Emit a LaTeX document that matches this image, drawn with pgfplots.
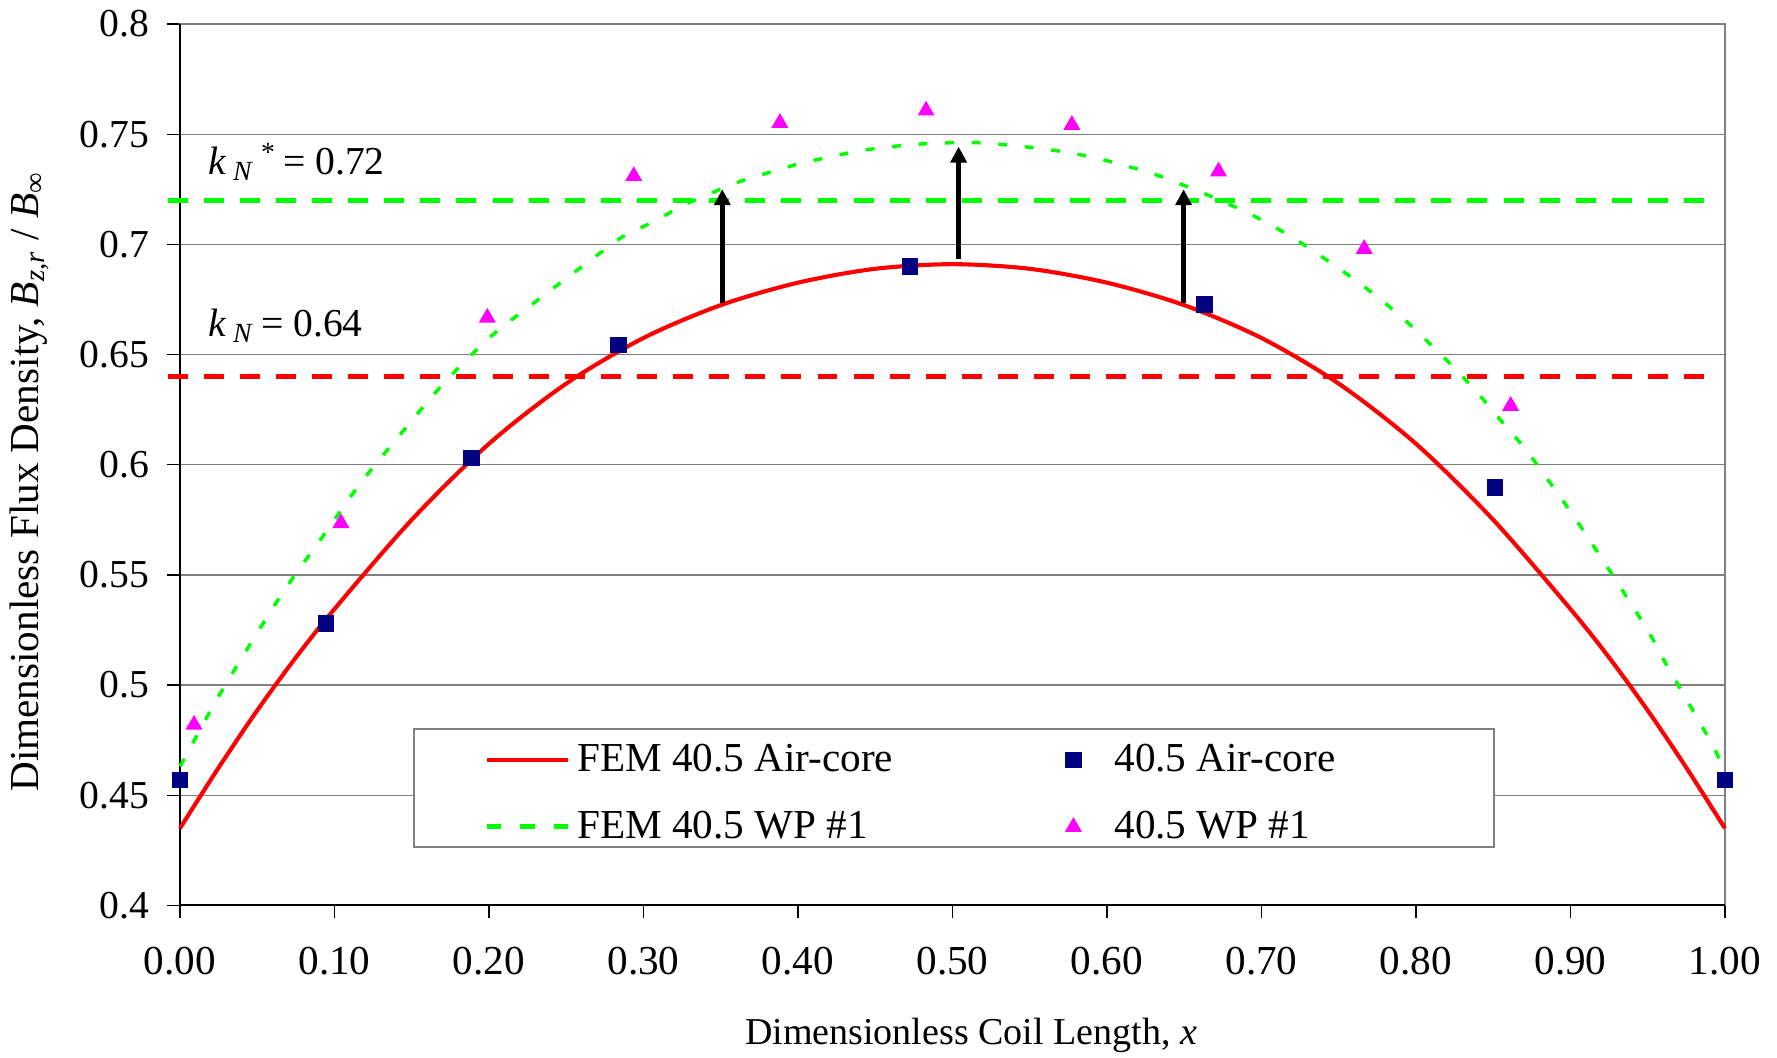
\documentclass[border=0pt]{standalone}
\usepackage{fontspec}
\setmainfont{Liberation Serif}
\usepackage{pgfplots}
\pgfplotsset{compat=1.18}
\usetikzlibrary{arrows.meta}

\definecolor{femred}{RGB}{255,0,0}
\definecolor{femgreen}{RGB}{0,255,0}
\definecolor{airnavy}{RGB}{0,0,128}
\definecolor{wpmag}{RGB}{255,0,255}
\definecolor{gridgray}{RGB}{128,128,128}

\pgfplotsset{
    linelegend/.style={legend image code/.code={\draw[##1] (0pt,0pt) -- (25.6pt,0pt);}},
    dotlegend/.style={legend image code/.code={\draw[##1, line width=1.6pt, dash pattern=on 4.5pt off 6pt] (0pt,0pt) -- (25.6pt,0pt);}},
    marklegend/.style={legend image code/.code={\path (0pt,0pt) (18.5pt,0pt); \draw[##1] plot coordinates {(7.75pt,0pt)};}},
}

\begin{document}
\begin{tikzpicture}
\begin{axis}[
    scale only axis,
    width=487.8pt, height=278.3pt,
    xmin=0, xmax=1, ymin=0.4, ymax=0.8,
    clip=false,
    xtick={0,0.1,0.2,0.3,0.4,0.5,0.6,0.7,0.8,0.9,1},
    xticklabels={0.00,0.10,0.20,0.30,0.40,0.50,0.60,0.70,0.80,0.90,1.00},
    ytick={0.4,0.45,0.5,0.55,0.6,0.65,0.7,0.75,0.8},
    yticklabels={0.4,0.45,0.5,0.55,0.6,0.65,0.7,0.75,0.8},
    ymajorgrids,
    grid style={gridgray, line width=0.4pt},
    axis line style={gridgray, line width=0.5pt},
    tick align=outside, major tick length=4pt,
    xtick pos=left, ytick pos=left,
    major tick style={black, line width=0.4pt},
    xticklabel style={font=\fontsize{13}{15}\selectfont},
    yticklabel style={font=\fontsize{12.5}{15}\selectfont},
    xticklabel shift=5.7pt,
    yticklabel shift=2.3pt,
    xlabel={Dimensionless Coil Length, \textit{x}},
    ylabel={Dimensionless Flux Density, \textit{B}\textsubscript{\textit{z,r}} / \textit{B}\textsubscript{∞}},
    xlabel style={at={(axis description cs:0.512,-0.1583)}, anchor=base, inner sep=0.5pt, font=\fontsize{12}{14}\selectfont},
    ylabel style={at={(axis description cs:-0.0974,0.481)}, anchor=center, inner sep=0.5pt, font=\fontsize{13}{15}\selectfont},
    legend columns=2,
    legend cell align=left,
    legend style={draw=none, fill=none, at={(axis description cs:0.1968,0.127)}, anchor=west,
        font=\fontsize{13}{15}\selectfont, inner xsep=0pt, inner ysep=0pt, row sep=7pt,
        /tikz/every even column/.append style={column sep=47pt}},
]

% legend frame and plot border
\draw[gridgray, fill=white, line width=0.5pt] (axis description cs:0.1515,0.0664) rectangle (axis description cs:0.8505,0.2003);
\draw[black, line width=0.6pt] (axis description cs:0,1) -- (axis description cs:0,0) -- (axis description cs:1,0);

% reference levels
\draw[femgreen, line width=1.6pt, dash pattern=on 6.3pt off 5.1pt] (axis cs:-0.008,0.72) -- (axis cs:0.996,0.72);
\draw[femred, line width=1.6pt, dash pattern=on 6.3pt off 5.1pt] (axis cs:-0.008,0.64) -- (axis cs:0.996,0.64);

\addplot[femred, line width=1.3pt, smooth, no markers, linelegend] coordinates {
    (0,0.435) (0.025,0.4625) (0.05,0.4885) (0.075,0.5125) (0.1,0.5345)
    (0.15,0.575) (0.2,0.6095) (0.25,0.6368) (0.3,0.6575) (0.35,0.6724)
    (0.4,0.6826) (0.45,0.6889) (0.5,0.691) (0.55,0.6889) (0.6,0.6826)
    (0.65,0.6724) (0.7,0.6575) (0.75,0.6368) (0.8,0.6095) (0.85,0.575)
    (0.9,0.5345) (0.925,0.5125) (0.95,0.4885) (0.975,0.4625) (1.0,0.435)
};
\addlegendentry{FEM 40.5 Air-core}

\addplot[only marks, mark=square*, mark size=2.4pt, airnavy, marklegend] coordinates {
    (0,0.457) (0.0945,0.528) (0.1888,0.603) (0.2837,0.6542) (0.4725,0.690)
    (0.663,0.6727) (0.8511,0.5896) (1.0,0.4568)
};
\addlegendentry{40.5 Air-core}

\addplot[femgreen, line width=1.1pt, dash pattern=on 2.8pt off 5.6pt, smooth, no markers, dotlegend] coordinates {
    (0,0.463) (0.0237,0.4933) (0.0453,0.5184) (0.068,0.5435) (0.0928,0.5678)
    (0.1165,0.5913) (0.1435,0.6145) (0.1704,0.6367) (0.2006,0.6578) (0.2317,0.6748)
    (0.2718,0.696) (0.2867,0.7035) (0.3065,0.7103) (0.3251,0.7174) (0.3437,0.7232)
    (0.3635,0.7288) (0.3833,0.733) (0.4019,0.7368) (0.4217,0.7398) (0.4402,0.7425)
    (0.4601,0.7443) (0.4787,0.7455) (0.4985,0.7461) (0.5171,0.7461) (0.5368,0.745)
    (0.5555,0.7436) (0.574,0.7418) (0.5939,0.739) (0.6124,0.7356) (0.6322,0.7315)
    (0.6508,0.7265) (0.6695,0.7211) (0.689,0.715) (0.708,0.7081) (0.726,0.7005)
    (0.7434,0.6923) (0.7619,0.6832) (0.7792,0.6738) (0.795,0.6643) (0.8104,0.6539)
    (0.8266,0.6426) (0.8417,0.6311) (0.8555,0.6196) (0.8694,0.6083) (0.8826,0.5959)
    (0.8948,0.584) (0.9071,0.5714) (0.9184,0.5594) (0.9295,0.5475) (0.941,0.5349)
    (0.9519,0.5226) (0.9619,0.5095) (0.9727,0.4965) (0.9827,0.4842) (0.9926,0.472)
    (1.0,0.4607)
};
\addlegendentry{FEM 40.5 WP \#1}

\addplot[only marks, mark=triangle*, mark size=2.7pt, wpmag, marklegend] coordinates {
    (0.0091,0.482) (0.1042,0.5735) (0.1989,0.6667) (0.2937,0.731) (0.3883,0.7551)
    (0.4829,0.7607) (0.5773,0.7542) (0.6722,0.7331) (0.7665,0.6979) (0.8613,0.6267)
};
\addlegendentry{40.5 WP \#1}

% enhancement arrows
\draw[black, line width=1.45pt, -{Triangle[length=5pt,width=5pt]}] (axis cs:0.351,0.6735) -- (axis cs:0.351,0.725);
\draw[black, line width=1.45pt, -{Triangle[length=5pt,width=5pt]}] (axis cs:0.504,0.6932) -- (axis cs:0.504,0.7443);
\draw[black, line width=1.45pt, -{Triangle[length=5pt,width=5pt]}] (axis cs:0.6496,0.6735) -- (axis cs:0.6496,0.725);

\node[anchor=base west, inner sep=0pt, font=\fontsize{12.5}{15}\selectfont] at (axis cs:0.018,0.7315)
    {\textit{k}\,\textsubscript{\textit{N}}\,\textsuperscript{*}\,= 0.72};
\node[anchor=base west, inner sep=0pt, font=\fontsize{12.5}{15}\selectfont] at (axis cs:0.018,0.658)
    {\textit{k}\,\textsubscript{\textit{N}}\,= 0.64};

% page extent
\path (axis description cs:-0.1165,-0.173) rectangle (axis description cs:1.0337,1.0272);
\end{axis}
\end{tikzpicture}
\end{document}
